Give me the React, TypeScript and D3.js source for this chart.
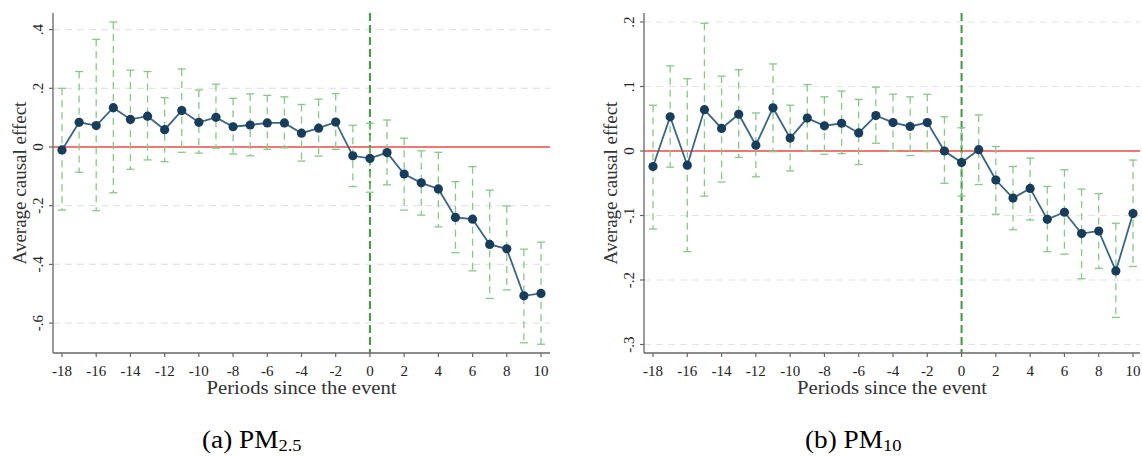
import React from "react";
import * as d3 from "d3";

// Periods since the event
const periods = [-18,-17,-16,-15,-14,-13,-12,-11,-10,-9,-8,-7,-6,-5,-4,-3,-2,-1,0,1,2,3,4,5,6,7,8,9,10];

// Panel (a) PM2.5
const pm25Est = [-0.01,0.084,0.073,0.134,0.094,0.105,0.059,0.124,0.084,0.101,0.069,0.075,0.082,0.082,0.047,0.064,0.085,-0.03,-0.039,-0.019,-0.092,-0.122,-0.143,-0.24,-0.246,-0.332,-0.347,-0.507,-0.499];
const pm25Hi = [0.2,0.257,0.367,0.426,0.262,0.257,0.168,0.266,0.194,0.214,0.166,0.181,0.176,0.171,0.145,0.163,0.182,0.074,0.081,0.092,0.03,-0.013,-0.018,-0.118,-0.067,-0.147,-0.201,-0.348,-0.324];
const pm25Lo = [-0.215,-0.086,-0.217,-0.156,-0.076,-0.044,-0.05,-0.018,-0.021,-0.004,-0.024,-0.03,-0.008,-0.003,-0.048,-0.031,-0.008,-0.135,-0.154,-0.129,-0.215,-0.232,-0.272,-0.36,-0.422,-0.516,-0.487,-0.667,-0.672];
const pm25YTicks = [0.4,0.2,0,-0.2,-0.4,-0.6];
const pm25YLabels = [".4",".2","0","-.2","-.4","-.6"];

// Panel (b) PM10
const pm10Est = [-0.024,0.053,-0.022,0.064,0.035,0.057,0.009,0.067,0.02,0.051,0.039,0.043,0.028,0.055,0.044,0.038,0.044,0.0,-0.018,0.002,-0.045,-0.073,-0.058,-0.106,-0.095,-0.128,-0.124,-0.186,-0.097];
const pm10Hi = [0.071,0.132,0.112,0.198,0.116,0.126,0.059,0.135,0.071,0.103,0.084,0.093,0.08,0.099,0.088,0.084,0.088,0.053,0.036,0.056,0.007,-0.024,-0.011,-0.055,-0.029,-0.059,-0.066,-0.112,-0.014];
const pm10Lo = [-0.121,-0.025,-0.156,-0.07,-0.048,-0.01,-0.04,-0.001,-0.031,0.0,-0.005,-0.004,-0.021,0.012,0.0,-0.007,-0.001,-0.05,-0.07,-0.052,-0.098,-0.122,-0.107,-0.156,-0.16,-0.198,-0.182,-0.258,-0.179];
const pm10YTicks = [0.2,0.1,0,-0.1,-0.2,-0.3];
const pm10YLabels = [".2",".1","0","-.1","-.2","-.3"];

const xTicks = [-18,-16,-14,-12,-10,-8,-6,-4,-2,0,2,4,6,8,10];

const yTitle = "Average causal effect";
const xTitle = "Periods since the event";

const FONT = "'Liberation Serif', 'Times New Roman', serif";

type PanelProps = {
  est: number[]; hi: number[]; lo: number[];
  yTicks: number[]; yLabels: string[];
  yDomain: [number, number]; yRange: [number, number];
  xRange: [number, number];
  axisX: number; axisRight: number;
};

function Panel(p: PanelProps) {
  const top = 13, bottom = 353;
  const x = d3.scaleLinear().domain([-18, 10]).range(p.xRange);
  const y = d3.scaleLinear().domain(p.yDomain).range(p.yRange);
  const line = d3.line<number>().x((_, i) => x(periods[i])).y((d) => y(d));
  const errColor = "#86c986";
  const cx = (p.axisX + p.axisRight) / 2;
  return (
    <g>
      {p.yTicks.filter(t => t !== 0).map((t) => (
        <line key={"g" + t} x1={p.axisX} x2={p.axisRight} y1={y(t)} y2={y(t)}
          stroke="#e4e4e4" strokeWidth={1.2} strokeDasharray="7 5" />
      ))}
      <line x1={p.axisX} x2={p.axisRight} y1={y(0)} y2={y(0)} stroke="#ee4a44" strokeWidth={1.6} />
      <line x1={x(0)} x2={x(0)} y1={top} y2={bottom} stroke="#3a9e3a" strokeWidth={2} strokeDasharray="8 4" />
      {periods.map((t, i) => (
        <g key={"e" + t} stroke={errColor} strokeWidth={1.3}>
          <line x1={x(t)} x2={x(t)} y1={y(p.hi[i])} y2={y(p.lo[i])} strokeDasharray="7 5" />
          <line x1={x(t) - 4} x2={x(t) + 4} y1={y(p.hi[i])} y2={y(p.hi[i])} />
          <line x1={x(t) - 4} x2={x(t) + 4} y1={y(p.lo[i])} y2={y(p.lo[i])} />
        </g>
      ))}
      <path d={line(p.est) || ""} fill="none" stroke="#3a6586" strokeWidth={1.8} />
      {periods.map((t, i) => (
        <circle key={"c" + t} cx={x(t)} cy={y(p.est[i])} r={4.6} fill="#173d5a" />
      ))}
      <line x1={p.axisX} x2={p.axisX} y1={top} y2={bottom} stroke="#666" strokeWidth={1.3} />
      <line x1={p.axisX} x2={p.axisRight} y1={bottom} y2={bottom} stroke="#666" strokeWidth={1.3} />
      {p.yTicks.map((t, i) => (
        <g key={"yt" + t}>
          <line x1={p.axisX - 4} x2={p.axisX} y1={y(t)} y2={y(t)} stroke="#666" strokeWidth={1.2} />
          <text transform={`translate(${p.axisX - 10},${y(t)}) rotate(-90)`} textAnchor="middle"
            fontFamily={FONT} fontSize={15} fill="#222">{p.yLabels[i]}</text>
        </g>
      ))}
      {xTicks.map((t) => (
        <g key={"xt" + t}>
          <line x1={x(t)} x2={x(t)} y1={bottom} y2={bottom + 4} stroke="#666" strokeWidth={1.2} />
          <text x={x(t)} y={bottom + 23} textAnchor="middle" fontFamily={FONT} fontSize={15} fill="#222">{String(t)}</text>
        </g>
      ))}
      <text x={cx - 95} y={394} fontFamily={FONT} fontSize={18} fill="#333"
        textLength={190} lengthAdjust="spacingAndGlyphs">{xTitle}</text>
      <text transform={`translate(${p.axisX - 27},${(top + bottom) / 2}) rotate(-90)`} textAnchor="middle"
        fontFamily={FONT} fontSize={19} fill="#333">{yTitle}</text>
    </g>
  );
}

export default function App() {
  return (
    <div style={{ position: "absolute", left: 0, top: 0 }}>
      <svg width={1142} height={457} style={{ display: "block", background: "#fff" }}>
        <Panel est={pm25Est} hi={pm25Hi} lo={pm25Lo} yTicks={pm25YTicks} yLabels={pm25YLabels}
          yDomain={[-0.6, 0.4]} yRange={[323.1, 29.6]} xRange={[62, 541]} axisX={53} axisRight={550} />
        <Panel est={pm10Est} hi={pm10Hi} lo={pm10Lo} yTicks={pm10YTicks} yLabels={pm10YLabels}
          yDomain={[-0.3, 0.2]} yRange={[344.5, 22]} xRange={[653, 1133]} axisX={644} axisRight={1140} />
        <text transform="translate(202,448) scale(1.09,1)" fontFamily={FONT} fontSize={25} fill="#000">
          (a) PM<tspan fontSize={17} dy={3}>2.5</tspan>
        </text>
        <text transform="translate(805,448) scale(1.09,1)" fontFamily={FONT} fontSize={25} fill="#000">
          (b) PM<tspan fontSize={17} dy={3}>10</tspan>
        </text>
      </svg>
    </div>
  );
}
